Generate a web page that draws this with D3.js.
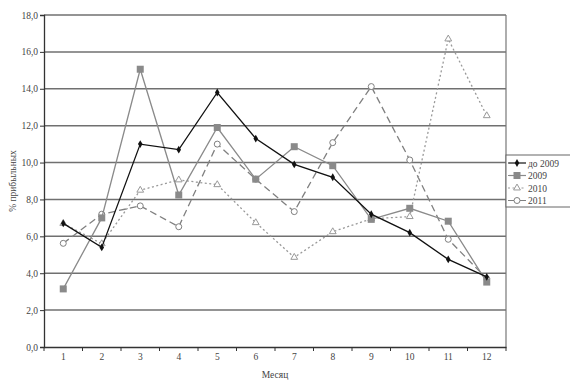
<!DOCTYPE html>
<html><head><meta charset="utf-8">
<script src="https://cdn.jsdelivr.net/npm/d3@7"></script>
<style>body{margin:0;background:#fff}text{font-family:"Liberation Serif","DejaVu Serif",serif}</style>
</head><body><svg id="c" width="570" height="382"></svg>
<script>
const months = [1,2,3,4,5,6,7,8,9,10,11,12];
const seriesNames = ["до 2009","2009","2010","2011"];
const before2009 = [6.7,5.4,11.0,10.7,13.8,11.3,9.9,9.2,7.2,6.2,4.75,3.8];
const y2009 = [3.15,7.0,15.06,8.24,11.9,9.1,10.86,9.83,6.92,7.52,6.82,3.52];
const y2010 = [6.7,5.6,8.5,9.06,8.8,6.74,4.86,6.25,6.95,7.07,16.7,12.54];
const y2011 = [5.62,7.2,7.65,6.52,11.0,9.1,7.34,11.08,14.12,10.14,5.84,3.7];
const yTicks = [0,2,4,6,8,10,12,14,16,18];
const yLabel = "% прибыльных";
const xLabel = "Месяц";

const svg = d3.select("#c");
const L=44, R=506, T=15, B=347;
const x = d3.scaleBand().domain(months).range([L,R]);
const y = d3.scaleLinear().domain([0,18]).range([B,T]);
const cx = d => x(d)+x.bandwidth()/2;

// grid
svg.append("g").selectAll("line").data(yTicks.filter(v=>v>0)).join("line")
  .attr("x1",L).attr("x2",R).attr("y1",d=>y(d)).attr("y2",d=>y(d))
  .attr("stroke","#707070").attr("stroke-width",1.5);
svg.append("line").attr("x1",R).attr("x2",R).attr("y1",T).attr("y2",B).attr("stroke","#777").attr("stroke-width",1.2);

// axes
const yAxis = d3.axisLeft(y).tickValues(yTicks).tickSize(4).tickFormat(d=>d3.format(".1f")(d).replace(".",","));
const gy = svg.append("g").attr("transform",`translate(${L},0)`).call(yAxis);
gy.select(".domain").attr("stroke","#333").attr("stroke-width",1.3);
gy.selectAll(".tick line").attr("stroke","#333");
gy.selectAll("text").attr("font-size",9.5).attr("fill","#444").attr("x",-6);

const xAxis = d3.axisBottom(x).tickSize(0).tickSizeOuter(0);
const gx = svg.append("g").attr("transform",`translate(0,${B})`).call(xAxis);
gx.select(".domain").attr("stroke","#333").attr("stroke-width",1.3);
gx.selectAll("text").attr("font-size",9.5).attr("fill","#444").attr("dy","1.1em");
// tick marks at band boundaries
svg.append("g").selectAll("line").data(months.concat([13])).join("line")
  .attr("x1",d=>d<=12?x(d):R).attr("x2",d=>d<=12?x(d):R)
  .attr("y1",B).attr("y2",B+4).attr("stroke","#333");

svg.append("text").attr("x",(L+R)/2).attr("y",378).attr("text-anchor","middle")
  .attr("font-size",9.5).attr("fill","#444").text(xLabel);
svg.append("text").attr("transform",`translate(16,${(T+B)/2}) rotate(-90)`).attr("text-anchor","middle")
  .attr("font-size",9.5).attr("fill","#444").text(yLabel);

const series = [
  {name:seriesNames[0], vals:before2009, color:"#111", dash:null, w:1.3, marker:"diamond"},
  {name:seriesNames[1], vals:y2009, color:"#8a8a8a", dash:null, w:1.3, marker:"square"},
  {name:seriesNames[2], vals:y2010, color:"#999", dash:"2,2.5", w:1.3, marker:"triangle"},
  {name:seriesNames[3], vals:y2011, color:"#808080", dash:"7,4", w:1.3, marker:"circle"}
];
const line = d3.line().x((d,i)=>cx(months[i])).y(d=>y(d));
function drawMarker(g, type, color, px, py){
  if(type==="diamond") g.append("path").attr("d",d3.symbol(d3.symbolDiamond,18)()).attr("transform",`translate(${px},${py})`).attr("fill",color);
  else if(type==="square") g.append("rect").attr("x",px-3.5).attr("y",py-3.5).attr("width",7).attr("height",7).attr("fill",color);
  else if(type==="triangle") g.append("path").attr("d",d3.symbol(d3.symbolTriangle,20)()).attr("transform",`translate(${px},${py})`).attr("fill","#fff").attr("stroke",color).attr("stroke-width",1);
  else g.append("circle").attr("cx",px).attr("cy",py).attr("r",3).attr("fill","#fff").attr("stroke",color).attr("stroke-width",1);
}
[3,2,1,0].forEach(k=>{
  const s = series[k];
  svg.append("path").datum(s.vals).attr("d",line).attr("fill","none")
    .attr("stroke",s.color).attr("stroke-width",s.w).attr("stroke-dasharray",s.dash);
  const g = svg.append("g");
  s.vals.forEach((v,i)=>drawMarker(g,s.marker,s.color,cx(months[i]),y(v)));
});

// legend
const lg = svg.append("g");
lg.append("rect").attr("x",506).attr("y",155).attr("width",70).attr("height",52).attr("fill","#fff").attr("stroke","#666");
series.forEach((s,i)=>{
  const ly = 163 + i*12.5;
  lg.append("line").attr("x1",508).attr("x2",526).attr("y1",ly).attr("y2",ly)
    .attr("stroke",s.color).attr("stroke-width",1.2).attr("stroke-dasharray",s.dash);
  drawMarker(lg,s.marker,s.color,517,ly);
  lg.append("text").attr("x",528).attr("y",ly+3.5).attr("font-size",9.5).attr("fill","#444").text(s.name);
});
</script></body></html>
